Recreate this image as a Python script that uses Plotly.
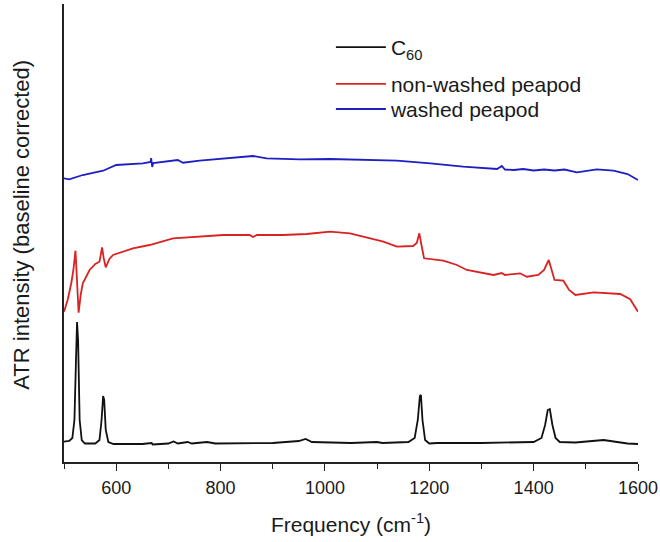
import plotly.graph_objects as go

# C60 spectrum
c60_x = [500, 510, 516, 520, 523, 525, 527, 530, 534, 540, 560, 568, 572, 575, 577, 580, 585, 595,
         650, 668, 670, 700, 710, 718, 737, 745, 774, 790, 900, 950, 963, 975, 1050, 1100, 1110,
         1160, 1172, 1178, 1182, 1184, 1187, 1192, 1200, 1215, 1260, 1300, 1400, 1415, 1422, 1427,
         1431, 1436, 1442, 1450, 1480, 1510, 1534, 1560, 1580, 1600]
c60_y = [19.3, 20, 23, 41, 101, 139, 121, 41, 21, 17.5, 17.5, 21, 41, 65, 61, 31, 19, 17,
         17, 18, 16.5, 17.5, 19.5, 17.5, 19, 17.5, 19, 17.5, 18, 20, 22, 19, 18, 19, 18,
         19, 23, 41, 65, 66, 41, 21, 17.5, 18, 18, 18, 19, 23, 36, 51,
         52, 36, 23, 19, 18.5, 20, 21, 19, 17.5, 17]

# non-washed peapod
nw_x = [500, 507, 514, 518, 522, 525, 528, 532, 536, 549, 560, 568, 573, 576, 580, 587, 594, 632,
        664, 709, 760, 805, 856, 862, 870, 920, 965, 1010, 1048, 1073, 1112, 1138, 1169, 1176,
        1181, 1185, 1190, 1227, 1253, 1272, 1323, 1339, 1345, 1374, 1387, 1409, 1420, 1429, 1435,
        1440, 1457, 1468, 1480, 1515, 1566, 1585, 1600]
nw_y = [149.3, 161, 178, 191, 210.3, 181, 148.3, 166, 177.7, 191, 197, 199.3, 213.7, 203, 193.7, 202, 206, 212.7,
        216, 222.7, 224.3, 226, 226, 224, 226, 226, 227, 229.3, 227.7, 224.3, 219.3, 214.3, 215, 218,
        227.7, 216, 202.7, 200.3, 196, 191, 186, 188, 186, 187.7, 184.3, 186, 191, 201, 189,
        181, 180.3, 171, 166, 168.7, 167, 161.7, 149.3]

# washed peapod
w_x = [500, 510, 536, 575, 600, 651, 666, 667, 669, 671, 718, 728, 760, 805, 862, 888, 952, 1009,
       1048, 1138, 1202, 1265, 1330, 1339, 1345, 1362, 1380, 1400, 1420, 1440, 1459, 1483, 1521,
       1553, 1580, 1600]
w_y = [282.7, 281.7, 286, 290.3, 296, 297.7, 299, 303, 294, 298, 301, 298.3, 300.3, 302.7, 305, 302.7, 301.7, 302,
       301.7, 300.3, 297.7, 294.3, 292, 295, 291.5, 291, 292, 290.5, 291.5, 290.5, 291.5, 288.7, 291.7,
       290.3, 287, 281]

x_ticks = [600, 800, 1000, 1200, 1400, 1600]
x_tick_labels = ["600", "800", "1000", "1200", "1400", "1600"]

fig = go.Figure()
fig.add_trace(go.Scatter(x=c60_x, y=c60_y, mode="lines", name="C<sub>60</sub>",
                         line=dict(color="#111111", width=1.8), legend="legend"))
fig.add_trace(go.Scatter(x=nw_x, y=nw_y, mode="lines", name="non-washed peapod",
                         line=dict(color="#d92222", width=1.8), legend="legend2"))
fig.add_trace(go.Scatter(x=w_x, y=w_y, mode="lines", name="washed peapod",
                         line=dict(color="#1e1ec2", width=1.8), legend="legend3"))

leg_common = dict(x=0.465, xanchor="left", yanchor="middle", bgcolor="rgba(0,0,0,0)",
                  itemwidth=50, font=dict(size=21))

fig.update_layout(
    width=660, height=542,
    margin=dict(l=64, r=22, t=4, b=80),
    paper_bgcolor="white", plot_bgcolor="white",
    font=dict(family="Liberation Sans, Arial, sans-serif", size=18, color="#1a1a1a"),
    showlegend=True,
    legend=dict(y=0.905, **leg_common),
    legend2=dict(y=0.825, **leg_common),
    legend3=dict(y=0.770, **leg_common),
    xaxis=dict(range=[500, 1600], tickvals=x_ticks, ticktext=x_tick_labels,
               ticks="outside", ticklen=7, tickwidth=1.3, tickcolor="#222",
               minor=dict(dtick=100, tick0=500, ticks="outside", ticklen=5, tickwidth=1.3, tickcolor="#222"),
               showline=True, linecolor="#222", linewidth=1.5, showgrid=False, zeroline=False,
               ticklabelstandoff=2, automargin=False,
               title=dict(text="Frequency (cm<sup>-1</sup>)", font=dict(size=21), standoff=20),
               tickfont=dict(size=18)),
    yaxis=dict(range=[-1, 457], showticklabels=False, ticks="", automargin=False,
               showline=True, linecolor="#222", linewidth=1.5, showgrid=False, zeroline=False),
    annotations=[dict(text="ATR intensity (baseline corrected)", textangle=-90,
                      xref="paper", yref="paper", x=-0.0737, y=0.5175,
                      xanchor="center", yanchor="middle", showarrow=False,
                      font=dict(size=22))],
)

fig.write_html("out.html", config={"displayModeBar": False},
               post_script="document.body.style.margin='0';")
